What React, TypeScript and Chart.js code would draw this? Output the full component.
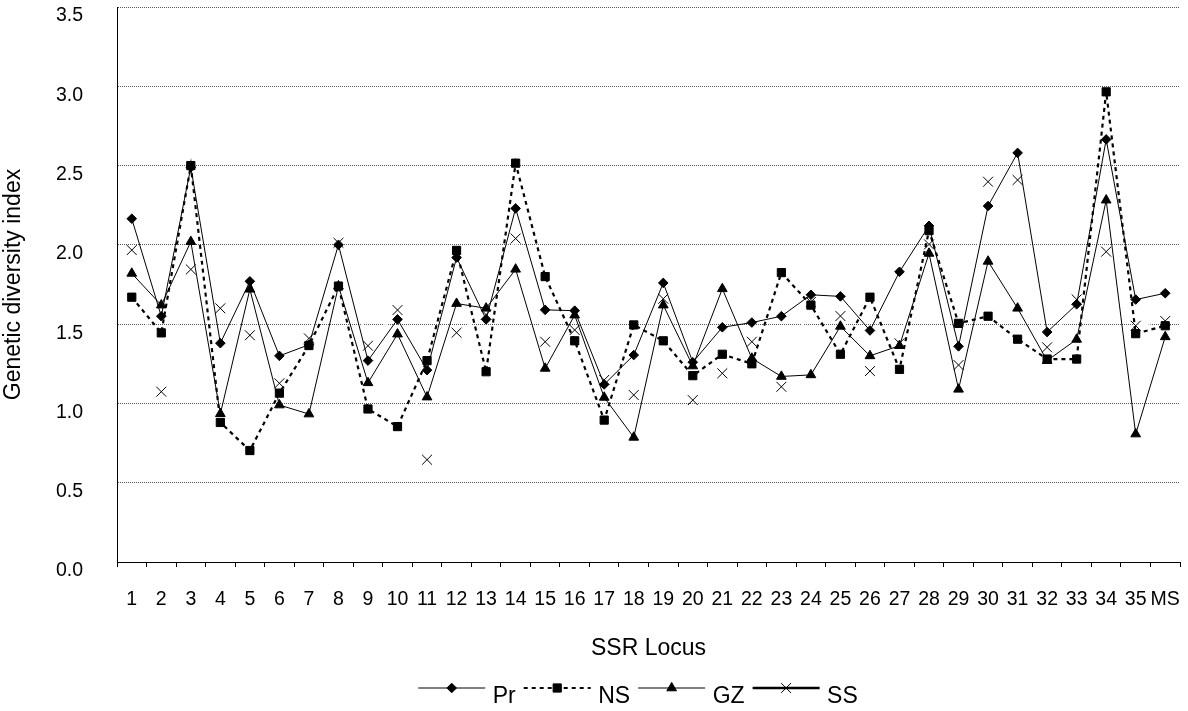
import React, { useEffect, useRef } from 'react';
import { Chart, registerables } from 'chart.js';

Chart.register(...registerables);

const FONT = '"Liberation Sans", Arial, Helvetica, sans-serif';

const categories = [
  '1', '2', '3', '4', '5', '6', '7', '8', '9', '10', '11', '12', '13', '14', '15', '16', '17', '18',
  '19', '20', '21', '22', '23', '24', '25', '26', '27', '28', '29', '30', '31', '32', '33', '34', '35', 'MS',
];

const prValues = [
  2.165, 1.55, 2.49, 1.38, 1.77, 1.30, 1.37, 2.00, 1.27, 1.53, 1.21, 1.92, 1.53, 2.23, 1.59, 1.585, 1.12, 1.305,
  1.76, 1.26, 1.48, 1.51, 1.55, 1.685, 1.675, 1.46, 1.83, 2.12, 1.36, 2.245, 2.58, 1.45, 1.625, 2.665, 1.655, 1.695,
];

const nsValues = [
  1.67, 1.445, 2.50, 0.88, 0.703, 1.065, 1.365, 1.74, 0.965, 0.854, 1.27, 1.965, 1.20, 2.515, 1.80, 1.395, 0.895, 1.495,
  1.395, 1.175, 1.31, 1.25, 1.825, 1.62, 1.31, 1.67, 1.215, 2.09, 1.505, 1.55, 1.405, 1.28, 1.28, 2.965, 1.44, 1.49,
];

const gzValues = [
  1.82, 1.62, 2.02, 0.935, 1.72, 0.99, 0.933, 1.74, 1.13, 1.437, 1.04, 1.63, 1.60, 1.846, 1.221, 1.557, 1.038, 0.786,
  1.62, 1.236, 1.723, 1.284, 1.17, 1.18, 1.486, 1.30, 1.364, 1.946, 1.089, 1.896, 1.60, 1.27, 1.404, 2.282, 0.807, 1.42,
];

const ssValues = [
  1.967, 1.074, 1.845, 1.60, 1.43, 1.127, 1.41, 2.013, 1.364, 1.589, 0.645, 1.446, 1.56, 2.04, 1.389, 1.463, 1.148, 1.053,
  1.66, 1.021, 1.19, 1.389, 1.105, 1.64, 1.551, 1.204, 1.379, 2.003, 1.242, 2.398, 2.409, 1.354, 1.656, 1.957, 1.49, 1.52,
];

const yMin = 0;
const yMax = 3.5;
const yStep = 0.5;

function drawMarker(ctx: CanvasRenderingContext2D, style: string, x: number, y: number, r: number) {
  ctx.save();
  ctx.fillStyle = '#000';
  ctx.strokeStyle = '#000';
  ctx.lineWidth = 1;
  ctx.setLineDash([]);
  ctx.beginPath();
  if (style === 'rectRot') {
    ctx.moveTo(x - r, y);
    ctx.lineTo(x, y - r);
    ctx.lineTo(x + r, y);
    ctx.lineTo(x, y + r);
    ctx.closePath();
    ctx.fill();
    ctx.stroke();
  } else if (style === 'rect') {
    const s = r * Math.SQRT1_2;
    ctx.rect(x - s, y - s, 2 * s, 2 * s);
    ctx.fill();
    ctx.stroke();
  } else if (style === 'triangle') {
    ctx.moveTo(x, y - r);
    ctx.lineTo(x + r * 0.866, y + r * 0.5);
    ctx.lineTo(x - r * 0.866, y + r * 0.5);
    ctx.closePath();
    ctx.fill();
    ctx.stroke();
  } else if (style === 'crossRot') {
    const o = r * Math.SQRT1_2;
    ctx.moveTo(x - o, y - o);
    ctx.lineTo(x + o, y + o);
    ctx.moveTo(x + o, y - o);
    ctx.lineTo(x - o, y + o);
    ctx.stroke();
  }
  ctx.restore();
}

const lineLegendPlugin = {
  id: 'lineLegend',
  afterDraw(chart: any) {
    const ctx: CanvasRenderingContext2D = chart.ctx;
    const { left, right } = chart.chartArea;
    const lineLen = 67;
    const gapText = 7.5;
    const gapItem = 8;
    const yLine = 688;
    const yText = 697;
    ctx.save();
    ctx.font = `23px ${FONT}`;
    const items = chart.data.datasets.map((ds: any) => ({ ds, w: ctx.measureText(ds.label).width }));
    const total =
      items.reduce((s: number, it: any) => s + lineLen + gapText + it.w, 0) + gapItem * (items.length - 1);
    let x = (left + right) / 2 - 10.5 - total / 2;
    items.forEach(({ ds, w }: any) => {
      ctx.save();
      ctx.strokeStyle = ds.legendLineColor || ds.borderColor;
      ctx.lineWidth = ds.legendLineWidth || ds.borderWidth;
      ctx.setLineDash(ds.borderDash || []);
      ctx.beginPath();
      ctx.moveTo(x, yLine);
      ctx.lineTo(x + lineLen, yLine);
      ctx.stroke();
      ctx.restore();
      drawMarker(ctx, ds.pointStyle, x + lineLen / 2, yLine, ds.pointRadius);
      ctx.fillStyle = '#000';
      ctx.textAlign = 'left';
      ctx.textBaseline = 'middle';
      ctx.fillText(ds.label, x + lineLen + gapText, yText);
      x += lineLen + gapText + w + gapItem;
    });
    ctx.restore();
  },
};

export default function App() {
  const canvasRef = useRef<HTMLCanvasElement | null>(null);

  useEffect(() => {
    if (!canvasRef.current) return;
    Chart.defaults.font.family = FONT;
    const common = {
      pointBackgroundColor: '#000',
      pointBorderColor: '#000',
      pointBorderWidth: 1,
      tension: 0,
      fill: false,
    };
    const chart = new Chart(canvasRef.current, {
      type: 'line',
      data: {
        labels: categories,
        datasets: [
          {
            ...common,
            label: 'Pr',
            data: prValues,
            borderColor: '#000',
            borderWidth: 1,
            pointStyle: 'rectRot',
            pointRadius: 4.8,
          },
          {
            ...common,
            label: 'NS',
            data: nsValues,
            borderColor: '#000',
            borderWidth: 2.2,
            borderDash: [4, 4],
            pointStyle: 'rect',
            pointRadius: 5.8,
          },
          {
            ...common,
            label: 'GZ',
            data: gzValues,
            borderColor: '#000',
            borderWidth: 1,
            pointStyle: 'triangle',
            pointRadius: 5.6,
          },
          {
            ...common,
            label: 'SS',
            data: ssValues,
            borderColor: '#fff',
            borderWidth: 2,
            legendLineColor: '#000',
            legendLineWidth: 2.5,
            pointStyle: 'crossRot',
            pointRadius: 7,
          } as any,
        ],
      },
      options: {
        animation: false,
        responsive: false,
        devicePixelRatio: 1,
        layout: { padding: { top: 7, right: 8, bottom: 49, left: 0 }, autoPadding: false },
        plugins: {
          legend: { display: false },
          tooltip: { enabled: false },
        },
        scales: {
          x: {
            type: 'category',
            offset: true,
            grid: {
              offset: true,
              drawOnChartArea: false,
              drawTicks: true,
              tickLength: 5,
              color: '#000',
              lineWidth: 1,
            },
            border: { display: true, color: '#000', width: 1 },
            ticks: {
              autoSkip: false,
              maxRotation: 0,
              minRotation: 0,
              padding: 21,
              color: '#000',
              font: { family: FONT, size: 19.5 },
            },
            title: {
              display: true,
              text: 'SSR Locus',
              color: '#000',
              font: { family: FONT, size: 23 },
              padding: { top: 0, bottom: 0 },
            },
            afterFit: (s: any) => {
              s.height = 100;
              s.paddingLeft = 0;
              s.paddingRight = 0;
              s.paddingTop = 0;
              s.paddingBottom = 0;
            },
          },
          y: {
            min: yMin,
            max: yMax,
            grid: { color: '#555', lineWidth: 1, drawTicks: false },
            border: { display: true, color: '#000', width: 1, dash: [1, 1] },
            ticks: {
              stepSize: yStep,
              padding: 34,
              labelOffset: 9,
              color: '#000',
              font: { family: FONT, size: 19.5 },
              callback: (v: any) => Number(v).toFixed(1),
            },
            title: {
              display: true,
              text: 'Genetic diversity index',
              color: '#000',
              font: { family: FONT, size: 23 },
              padding: { top: 0, bottom: 0 },
            },
            afterFit: (s: any) => {
              s.width = 117;
              s.paddingLeft = 0;
              s.paddingRight = 0;
              s.paddingTop = 0;
              s.paddingBottom = 0;
            },
          },
        },
      } as any,
      plugins: [lineLegendPlugin],
    });
    return () => chart.destroy();
  }, []);

  return (
    <div style={{ position: 'absolute', left: 0, top: 0, width: 1188, height: 711, background: '#fff' }}>
      <canvas ref={canvasRef} width={1188} height={711} style={{ width: 1188, height: 711, display: 'block' }} />
    </div>
  );
}
